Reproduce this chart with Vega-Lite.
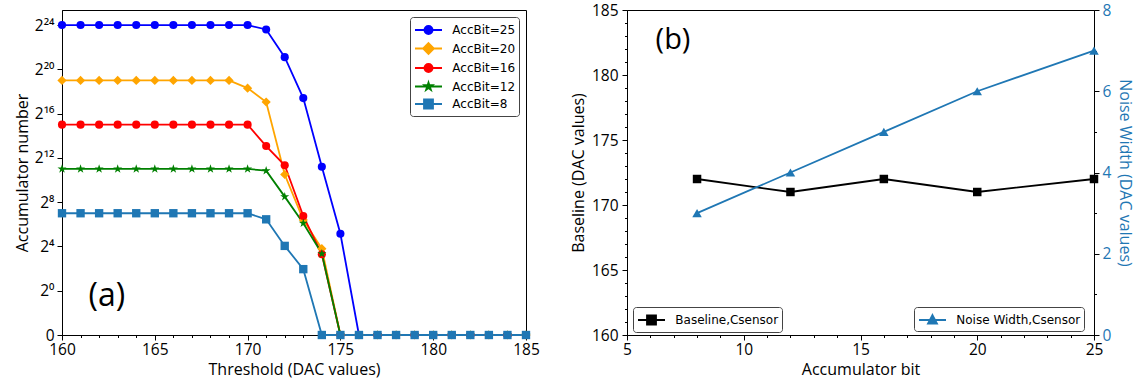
{
  "$schema": "https://vega.github.io/schema/vega-lite/v6.json",
  "background": "white",
  "padding": {"left": 13, "top": 2, "right": 0, "bottom": 2},
  "spacing": 29,
  "datasets": {
    "acc": [
      {"threshold":160,"series":"AccBit=25","log2n":24},{"threshold":161,"series":"AccBit=25","log2n":24},{"threshold":162,"series":"AccBit=25","log2n":24},{"threshold":163,"series":"AccBit=25","log2n":24},{"threshold":164,"series":"AccBit=25","log2n":24},{"threshold":165,"series":"AccBit=25","log2n":24},{"threshold":166,"series":"AccBit=25","log2n":24},{"threshold":167,"series":"AccBit=25","log2n":24},{"threshold":168,"series":"AccBit=25","log2n":24},{"threshold":169,"series":"AccBit=25","log2n":24},{"threshold":170,"series":"AccBit=25","log2n":24},{"threshold":171,"series":"AccBit=25","log2n":23.6},{"threshold":172,"series":"AccBit=25","log2n":21.1},{"threshold":173,"series":"AccBit=25","log2n":17.4},{"threshold":174,"series":"AccBit=25","log2n":11.2},{"threshold":175,"series":"AccBit=25","log2n":5.15},{"threshold":176,"series":"AccBit=25","log2n":-4},{"threshold":177,"series":"AccBit=25","log2n":-4},{"threshold":178,"series":"AccBit=25","log2n":-4},{"threshold":179,"series":"AccBit=25","log2n":-4},{"threshold":180,"series":"AccBit=25","log2n":-4},{"threshold":181,"series":"AccBit=25","log2n":-4},{"threshold":182,"series":"AccBit=25","log2n":-4},{"threshold":183,"series":"AccBit=25","log2n":-4},{"threshold":184,"series":"AccBit=25","log2n":-4},{"threshold":185,"series":"AccBit=25","log2n":-4},
      {"threshold":160,"series":"AccBit=20","log2n":19},{"threshold":161,"series":"AccBit=20","log2n":19},{"threshold":162,"series":"AccBit=20","log2n":19},{"threshold":163,"series":"AccBit=20","log2n":19},{"threshold":164,"series":"AccBit=20","log2n":19},{"threshold":165,"series":"AccBit=20","log2n":19},{"threshold":166,"series":"AccBit=20","log2n":19},{"threshold":167,"series":"AccBit=20","log2n":19},{"threshold":168,"series":"AccBit=20","log2n":19},{"threshold":169,"series":"AccBit=20","log2n":19},{"threshold":170,"series":"AccBit=20","log2n":18.3},{"threshold":171,"series":"AccBit=20","log2n":17.05},{"threshold":172,"series":"AccBit=20","log2n":10.5},{"threshold":173,"series":"AccBit=20","log2n":6.4},{"threshold":174,"series":"AccBit=20","log2n":3.8},{"threshold":175,"series":"AccBit=20","log2n":-4},{"threshold":176,"series":"AccBit=20","log2n":-4},{"threshold":177,"series":"AccBit=20","log2n":-4},{"threshold":178,"series":"AccBit=20","log2n":-4},{"threshold":179,"series":"AccBit=20","log2n":-4},{"threshold":180,"series":"AccBit=20","log2n":-4},{"threshold":181,"series":"AccBit=20","log2n":-4},{"threshold":182,"series":"AccBit=20","log2n":-4},{"threshold":183,"series":"AccBit=20","log2n":-4},{"threshold":184,"series":"AccBit=20","log2n":-4},{"threshold":185,"series":"AccBit=20","log2n":-4},
      {"threshold":160,"series":"AccBit=16","log2n":15},{"threshold":161,"series":"AccBit=16","log2n":15},{"threshold":162,"series":"AccBit=16","log2n":15},{"threshold":163,"series":"AccBit=16","log2n":15},{"threshold":164,"series":"AccBit=16","log2n":15},{"threshold":165,"series":"AccBit=16","log2n":15},{"threshold":166,"series":"AccBit=16","log2n":15},{"threshold":167,"series":"AccBit=16","log2n":15},{"threshold":168,"series":"AccBit=16","log2n":15},{"threshold":169,"series":"AccBit=16","log2n":15},{"threshold":170,"series":"AccBit=16","log2n":15},{"threshold":171,"series":"AccBit=16","log2n":13.07},{"threshold":172,"series":"AccBit=16","log2n":11.33},{"threshold":173,"series":"AccBit=16","log2n":6.75},{"threshold":174,"series":"AccBit=16","log2n":3.3},{"threshold":175,"series":"AccBit=16","log2n":-4},{"threshold":176,"series":"AccBit=16","log2n":-4},{"threshold":177,"series":"AccBit=16","log2n":-4},{"threshold":178,"series":"AccBit=16","log2n":-4},{"threshold":179,"series":"AccBit=16","log2n":-4},{"threshold":180,"series":"AccBit=16","log2n":-4},{"threshold":181,"series":"AccBit=16","log2n":-4},{"threshold":182,"series":"AccBit=16","log2n":-4},{"threshold":183,"series":"AccBit=16","log2n":-4},{"threshold":184,"series":"AccBit=16","log2n":-4},{"threshold":185,"series":"AccBit=16","log2n":-4},
      {"threshold":160,"series":"AccBit=12","log2n":11},{"threshold":161,"series":"AccBit=12","log2n":11},{"threshold":162,"series":"AccBit=12","log2n":11},{"threshold":163,"series":"AccBit=12","log2n":11},{"threshold":164,"series":"AccBit=12","log2n":11},{"threshold":165,"series":"AccBit=12","log2n":11},{"threshold":166,"series":"AccBit=12","log2n":11},{"threshold":167,"series":"AccBit=12","log2n":11},{"threshold":168,"series":"AccBit=12","log2n":11},{"threshold":169,"series":"AccBit=12","log2n":11},{"threshold":170,"series":"AccBit=12","log2n":11},{"threshold":171,"series":"AccBit=12","log2n":10.85},{"threshold":172,"series":"AccBit=12","log2n":8.5},{"threshold":173,"series":"AccBit=12","log2n":6.1},{"threshold":174,"series":"AccBit=12","log2n":3.35},{"threshold":175,"series":"AccBit=12","log2n":-4},{"threshold":176,"series":"AccBit=12","log2n":-4},{"threshold":177,"series":"AccBit=12","log2n":-4},{"threshold":178,"series":"AccBit=12","log2n":-4},{"threshold":179,"series":"AccBit=12","log2n":-4},{"threshold":180,"series":"AccBit=12","log2n":-4},{"threshold":181,"series":"AccBit=12","log2n":-4},{"threshold":182,"series":"AccBit=12","log2n":-4},{"threshold":183,"series":"AccBit=12","log2n":-4},{"threshold":184,"series":"AccBit=12","log2n":-4},{"threshold":185,"series":"AccBit=12","log2n":-4},
      {"threshold":160,"series":"AccBit=8","log2n":7},{"threshold":161,"series":"AccBit=8","log2n":7},{"threshold":162,"series":"AccBit=8","log2n":7},{"threshold":163,"series":"AccBit=8","log2n":7},{"threshold":164,"series":"AccBit=8","log2n":7},{"threshold":165,"series":"AccBit=8","log2n":7},{"threshold":166,"series":"AccBit=8","log2n":7},{"threshold":167,"series":"AccBit=8","log2n":7},{"threshold":168,"series":"AccBit=8","log2n":7},{"threshold":169,"series":"AccBit=8","log2n":7},{"threshold":170,"series":"AccBit=8","log2n":7},{"threshold":171,"series":"AccBit=8","log2n":6.45},{"threshold":172,"series":"AccBit=8","log2n":4.05},{"threshold":173,"series":"AccBit=8","log2n":1.95},{"threshold":174,"series":"AccBit=8","log2n":-4},{"threshold":175,"series":"AccBit=8","log2n":-4},{"threshold":176,"series":"AccBit=8","log2n":-4},{"threshold":177,"series":"AccBit=8","log2n":-4},{"threshold":178,"series":"AccBit=8","log2n":-4},{"threshold":179,"series":"AccBit=8","log2n":-4},{"threshold":180,"series":"AccBit=8","log2n":-4},{"threshold":181,"series":"AccBit=8","log2n":-4},{"threshold":182,"series":"AccBit=8","log2n":-4},{"threshold":183,"series":"AccBit=8","log2n":-4},{"threshold":184,"series":"AccBit=8","log2n":-4},{"threshold":185,"series":"AccBit=8","log2n":-4}
    ],
    "bits": [
      {"bit":8,"baseline":172,"noise":3},
      {"bit":12,"baseline":171,"noise":4},
      {"bit":16,"baseline":172,"noise":5},
      {"bit":20,"baseline":171,"noise":6},
      {"bit":25,"baseline":172,"noise":7}
    ]
  },
  "hconcat": [
    {
      "width": 464,
      "height": 325,
      "data": {"name": "acc"},
      "encoding": {
        "x": {"field": "threshold", "type": "quantitative", "scale": {"domain": [160, 185], "nice": false},
          "axis": {"title": "Threshold (DAC values)", "tickCount": 100, "format": "d", "values": [160,161,162,163,164,165,166,167,168,169,170,171,172,173,174,175,176,177,178,179,180,181,182,183,184,185],
            "labelExpr": "datum.value % 5 === 0 ? datum.label : ''",
            "tickSize": {"condition": {"test": "datum.value % 5 === 0", "value": 5}, "value": 2.5}}},
        "y": {"field": "log2n", "type": "quantitative", "scale": {"domain": [-4, 25.36], "nice": false, "zero": false},
          "axis": {"title": "Accumulator number", "tickCount": 100, "labelPadding": 3, "values": [-4,0,4,8,12,16,20,24],
            "labelExpr": "datum.value === -4 ? '0' : datum.value === 0 ? '2⁰' : datum.value === 4 ? '2⁴' : datum.value === 8 ? '2⁸' : datum.value === 12 ? '2¹²' : datum.value === 16 ? '2¹⁶' : datum.value === 20 ? '2²⁰' : '2²⁴'"}}
      },
      "layer": [
        {
          "mark": {"type": "line", "strokeWidth": 1.8},
          "encoding": {
            "color": {"field": "series", "type": "nominal",
              "scale": {"domain": ["AccBit=25","AccBit=20","AccBit=16","AccBit=12","AccBit=8"], "range": ["#0000ff","#ffa500","#ff0000","#008000","#1f77b4"]},
              "legend": {"title": null, "orient": "none", "legendX": 348, "legendY": 7,
                "encode": {"symbols": {"update": {
                  "shape": {"signal": "datum.value === 'AccBit=20' ? 'M-1.5,0H1.5M0,-0.6L0.6,0L0,0.6L-0.6,0Z' : datum.value === 'AccBit=12' ? 'M-1.5,0H1.5M0,-0.45L0.101,-0.139L0.428,-0.139L0.163,0.053L0.265,0.364L0,0.172L-0.265,0.364L-0.163,0.053L-0.428,-0.139L-0.101,-0.139Z' : datum.value === 'AccBit=8' ? 'M-1.5,0H1.5M-0.5,-0.5H0.5V0.5H-0.5Z' : 'M-1.5,0H1.5M0.45,0A0.45,0.45,0,1,1,-0.45,0A0.45,0.45,0,1,1,0.45,0Z'"},
                  "fill": {"signal": "datum.value === 'AccBit=25' ? '#0000ff' : datum.value === 'AccBit=20' ? '#ffa500' : datum.value === 'AccBit=16' ? '#ff0000' : datum.value === 'AccBit=12' ? '#008000' : '#1f77b4'"},
                  "stroke": {"signal": "datum.value === 'AccBit=25' ? '#0000ff' : datum.value === 'AccBit=20' ? '#ffa500' : datum.value === 'AccBit=16' ? '#ff0000' : datum.value === 'AccBit=12' ? '#008000' : '#1f77b4'"},
                  "strokeWidth": {"value": 1.8},
                  "opacity": {"value": 1},
                  "size": {"value": 324}
                }}}}}
          }
        },
        {
          "transform": [{"filter": "datum.series === 'AccBit=25'"}],
          "mark": {"type": "point", "shape": "circle", "filled": true, "opacity": 1, "size": 66, "color": "#0000ff"}
        },
        {
          "transform": [{"filter": "datum.series === 'AccBit=20'"}],
          "mark": {"type": "point", "shape": "diamond", "filled": true, "opacity": 1, "size": 85, "color": "#ffa500"}
        },
        {
          "transform": [{"filter": "datum.series === 'AccBit=16'"}],
          "mark": {"type": "point", "shape": "circle", "filled": true, "opacity": 1, "size": 66, "color": "#ff0000"}
        },
        {
          "transform": [{"filter": "datum.series === 'AccBit=12'"}],
          "mark": {"type": "point", "shape": "M0,-1L0.225,-0.309L0.951,-0.309L0.363,0.118L0.588,0.809L0,0.382L-0.588,0.809L-0.363,0.118L-0.951,-0.309L-0.225,-0.309Z", "filled": true, "opacity": 1, "size": 90, "color": "#008000"}
        },
        {
          "transform": [{"filter": "datum.series === 'AccBit=8'"}],
          "mark": {"type": "point", "shape": "square", "filled": true, "opacity": 1, "size": 70, "color": "#1f77b4"}
        },
        {
          "data": {"values": [{"x": 162.42, "y": -0.52, "label": "(a)"}]},
          "mark": {"type": "text", "font": "Open Sans", "fontSize": 32, "align": "center", "baseline": "middle", "color": "#000"},
          "encoding": {
            "x": {"field": "x", "type": "quantitative"},
            "y": {"field": "y", "type": "quantitative"},
            "text": {"field": "label"}
          }
        }
      ]
    },
    {
      "width": 467,
      "height": 325,
      "data": {"name": "bits"},
      "layer": [
        {
          "layer": [
            {
              "mark": {"type": "line", "strokeWidth": 1.8},
              "encoding": {
                "x": {"field": "bit", "type": "quantitative", "scale": {"domain": [5, 25], "nice": false},
                  "axis": {"title": "Accumulator bit", "tickCount": 100, "format": "d", "values": [5,6,7,8,9,10,11,12,13,14,15,16,17,18,19,20,21,22,23,24,25],
                    "labelExpr": "datum.value % 5 === 0 ? datum.label : ''",
                    "tickSize": {"condition": {"test": "datum.value % 5 === 0", "value": 5}, "value": 2.5}}},
                "y": {"field": "baseline", "type": "quantitative", "scale": {"domain": [160, 185], "nice": false, "zero": false},
                  "axis": {"orient": "left", "title": "Baseline (DAC values)", "tickCount": 100, "format": "d", "labelPadding": 4, "titlePadding": 5,
                    "values": [160,161,162,163,164,165,166,167,168,169,170,171,172,173,174,175,176,177,178,179,180,181,182,183,184,185],
                    "labelExpr": "datum.value % 5 === 0 ? datum.label : ''",
                    "tickSize": {"condition": {"test": "datum.value % 5 === 0", "value": 5}, "value": 2.5}}},
                "color": {"datum": "Baseline,Csensor", "type": "nominal", "scale": {"range": ["#000000"]},
                  "legend": {"title": null, "orient": "none", "legendX": 6, "legendY": 297,
                    "encode": {"symbols": {"update": {
                      "shape": {"value": "M-1.5,0H1.5M-0.5,-0.5H0.5V0.5H-0.5Z"},
                      "fill": {"value": "#000000"}, "stroke": {"value": "#000000"},
                      "strokeWidth": {"value": 1.8}, "opacity": {"value": 1}, "size": {"value": 324}}}}}}
              }
            },
            {
              "mark": {"type": "point", "shape": "square", "filled": true, "opacity": 1, "size": 72, "color": "#000000"},
              "encoding": {
                "x": {"field": "bit", "type": "quantitative"},
                "y": {"field": "baseline", "type": "quantitative"}
              }
            },
            {
              "data": {"values": [{"x": 6.97, "y": 182.69, "label": "(b)"}]},
              "mark": {"type": "text", "font": "Open Sans", "fontSize": 29, "align": "center", "baseline": "middle", "color": "#000"},
              "encoding": {
                "x": {"field": "x", "type": "quantitative"},
                "y": {"field": "y", "type": "quantitative"},
                "text": {"field": "label"}
              }
            }
          ]
        },
        {
          "layer": [
            {
              "mark": {"type": "line", "strokeWidth": 1.8},
              "encoding": {
                "x": {"field": "bit", "type": "quantitative"},
                "y": {"field": "noise", "type": "quantitative", "scale": {"domain": [0, 8], "nice": false},
                  "axis": {"orient": "right", "title": "Noise Width (DAC values)", "titleColor": "#1f77b4", "labelColor": "#1f77b4", "tickCount": 100, "format": "d",
                    "labelPadding": 3, "titlePadding": 6,
                    "values": [0,1,2,3,4,5,6,7,8],
                    "labelExpr": "datum.value % 2 === 0 ? datum.label : ''",
                    "tickSize": {"condition": {"test": "datum.value % 2 === 0", "value": 5}, "value": 2.5}}},
                "color": {"datum": "Noise Width,Csensor", "type": "nominal", "scale": {"range": ["#1f77b4"]},
                  "legend": {"title": null, "orient": "none", "legendX": 287, "legendY": 297,
                    "encode": {"symbols": {"update": {
                      "shape": {"value": "M-1.5,0H1.5M0,-0.55L0.5,0.4H-0.5Z"},
                      "fill": {"value": "#1f77b4"}, "stroke": {"value": "#1f77b4"},
                      "strokeWidth": {"value": 1.8}, "opacity": {"value": 1}, "size": {"value": 324}}}}}}
              }
            },
            {
              "mark": {"type": "point", "shape": "triangle-up", "filled": true, "opacity": 1, "size": 90, "color": "#1f77b4"},
              "encoding": {
                "x": {"field": "bit", "type": "quantitative"},
                "y": {"field": "noise", "type": "quantitative"}
              }
            }
          ]
        }
      ],
      "resolve": {"scale": {"y": "independent", "color": "independent"}, "legend": {"color": "independent"}}
    }
  ],
  "config": {
    "view": {"stroke": "#000000", "strokeWidth": 1},
    "axis": {"domainColor": "#000000", "tickColor": "#000000", "labelColor": "#000000", "titleColor": "#000000",
      "labelFont": "Open Sans", "titleFont": "Open Sans", "labelFontSize": 15.5, "titleFontSize": 16, "titleFontWeight": "normal",
      "grid": false, "tickSize": 5, "labelPadding": 2, "titlePadding": 4, "labelBound": false, "labelOverlap": false, "labelFlush": false},
    "legend": {"labelFont": "DejaVu Sans", "labelFontSize": 12, "labelColor": "#000000", "strokeColor": "#444444", "fillColor": "#ffffff",
      "cornerRadius": 3, "padding": 3, "symbolSize": 324, "labelOffset": 13.8, "rowPadding": 0.5, "symbolOffset": 5.5}
  }
}
